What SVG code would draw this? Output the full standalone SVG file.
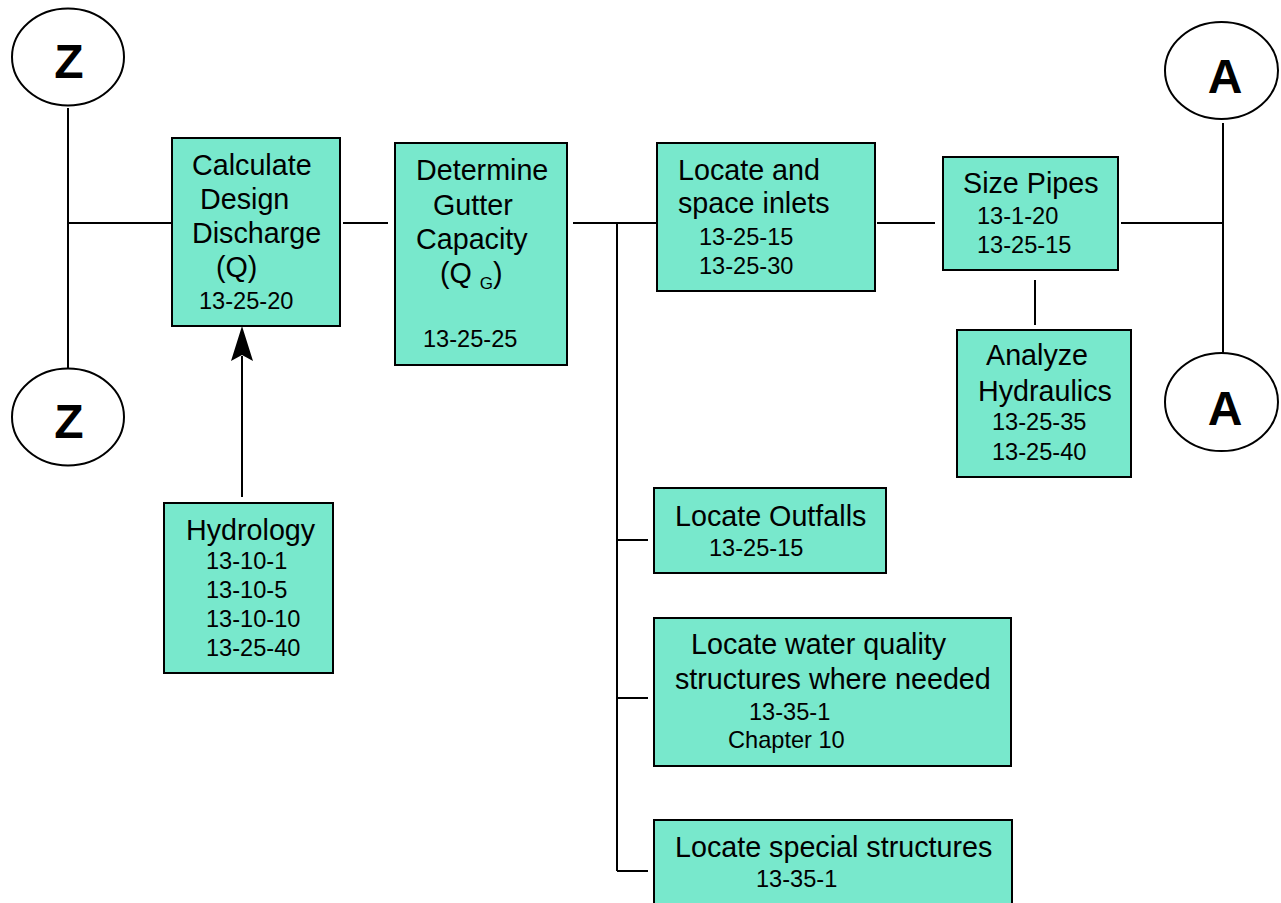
<svg xmlns="http://www.w3.org/2000/svg" width="1281" height="903" viewBox="0 0 1281 903">
<style>
.box{fill:#78E8CC;stroke:#000;stroke-width:2}
.circ{fill:#fff;stroke:#000;stroke-width:2}
.ln{stroke:#000;stroke-width:2;fill:none}
.t{font-family:"Liberation Sans",Arial,sans-serif;font-size:28.7px;fill:#000}
.n{font-family:"Liberation Sans",Arial,sans-serif;font-size:23.6px;fill:#000}
.s{font-family:"Liberation Sans",Arial,sans-serif;font-size:17px;fill:#000}
.c{font-family:"Liberation Sans",Arial,sans-serif;font-size:48px;font-weight:bold;fill:#000;text-anchor:middle}
</style>
<rect width="1281" height="903" fill="#fff"/>
<g id="connectors">
<line class="ln" x1="68" y1="108" x2="68" y2="368"/>
<line class="ln" x1="68" y1="223" x2="172" y2="223"/>
<line class="ln" x1="343" y1="223" x2="388" y2="223"/>
<line class="ln" x1="573" y1="223" x2="657" y2="223"/>
<line class="ln" x1="617" y1="223" x2="617" y2="871"/>
<line class="ln" x1="617" y1="540" x2="648" y2="540"/>
<line class="ln" x1="617" y1="698" x2="648" y2="698"/>
<line class="ln" x1="617" y1="871" x2="648" y2="871"/>
<line class="ln" x1="877" y1="223" x2="935" y2="223"/>
<line class="ln" x1="1121" y1="223" x2="1223" y2="223"/>
<line class="ln" x1="1223" y1="123" x2="1223" y2="353"/>
<line class="ln" x1="1035" y1="280" x2="1035" y2="325"/>
<line class="ln" x1="242" y1="497" x2="242" y2="356"/>
<polygon points="242,326 253,361 242,355 231,361" fill="#000"/>
</g>
<g id="z-top"><ellipse class="circ" cx="68" cy="57" rx="56" ry="48.5"/><text class="c" x="69" y="78">Z</text></g>
<g id="z-bottom"><ellipse class="circ" cx="68" cy="417" rx="56" ry="48.5"/><text class="c" x="69" y="438">Z</text></g>
<g id="a-top"><ellipse class="circ" cx="1221.5" cy="70.5" rx="56.5" ry="48.5"/><text class="c" x="1225" y="93">A</text></g>
<g id="a-bottom"><ellipse class="circ" cx="1221.5" cy="402" rx="56.5" ry="49"/><text class="c" x="1225" y="425">A</text></g>
<g id="calculate">
<rect class="box" x="172" y="138" width="168" height="188"/>
<text class="t" x="192" y="175">Calculate</text>
<text class="t" x="200" y="209">Design</text>
<text class="t" x="192" y="243">Discharge</text>
<text class="t" x="216" y="277">(Q)</text>
<text class="n" x="199" y="309">13-25-20</text>
</g>
<g id="determine">
<rect class="box" x="395" y="143" width="172" height="222"/>
<text class="t" x="416" y="180">Determine</text>
<text class="t" x="433" y="215">Gutter</text>
<text class="t" x="416" y="249">Capacity</text>
<text class="t" x="440" y="283">(Q <tspan class="s" dy="6">G</tspan><tspan dy="-6">)</tspan></text>
<text class="n" x="423" y="347">13-25-25</text>
</g>
<g id="locate-inlets">
<rect class="box" x="657" y="143" width="218" height="148"/>
<text class="t" x="678" y="180">Locate and</text>
<text class="t" x="678" y="213">space inlets</text>
<text class="n" x="699" y="245">13-25-15</text>
<text class="n" x="699" y="274">13-25-30</text>
</g>
<g id="size-pipes">
<rect class="box" x="943" y="157" width="175" height="113"/>
<text class="t" x="963" y="193">Size Pipes</text>
<text class="n" x="977" y="224">13-1-20</text>
<text class="n" x="977" y="253">13-25-15</text>
</g>
<g id="analyze">
<rect class="box" x="957" y="330" width="174" height="147"/>
<text class="t" x="986" y="365">Analyze</text>
<text class="t" x="978" y="401">Hydraulics</text>
<text class="n" x="992" y="430">13-25-35</text>
<text class="n" x="992" y="460">13-25-40</text>
</g>
<g id="hydrology">
<rect class="box" x="164" y="503" width="169" height="170"/>
<text class="t" x="186" y="540">Hydrology</text>
<text class="n" x="206" y="569">13-10-1</text>
<text class="n" x="206" y="598">13-10-5</text>
<text class="n" x="206" y="627">13-10-10</text>
<text class="n" x="206" y="656">13-25-40</text>
</g>
<g id="outfalls">
<rect class="box" x="654" y="488" width="232" height="85"/>
<text class="t" x="675" y="526">Locate Outfalls</text>
<text class="n" x="709" y="556">13-25-15</text>
</g>
<g id="water-quality">
<rect class="box" x="654" y="618" width="357" height="148"/>
<text class="t" x="691" y="654">Locate water quality</text>
<text class="t" x="675" y="689">structures where needed</text>
<text class="n" x="749" y="720">13-35-1</text>
<text class="n" x="728" y="748">Chapter 10</text>
</g>
<g id="special">
<rect class="box" x="654" y="820" width="358" height="95"/>
<text class="t" x="675" y="857">Locate special structures</text>
<text class="n" x="756" y="887">13-35-1</text>
</g>
</svg>
